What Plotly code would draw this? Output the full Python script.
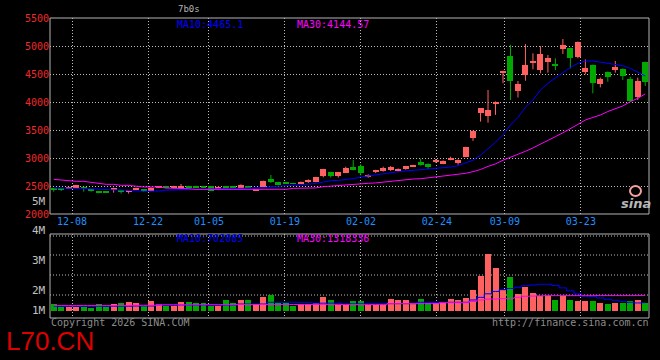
import plotly.graph_objects as go

# ---------------- data ----------------
TICK_LABELS = ["12-08", "12-22", "01-05", "01-19", "02-02", "02-24", "03-09", "03-23"]
PRICE_TICKS = [2000, 2500, 3000, 3500, 4000, 4500, 5000, 5500]

OPEN = [2458, 2452, 2463, 2464, 2482, 2435, 2411, 2391, 2429, 2417,
        2405, 2429, 2440, 2411, 2470, 2500, 2464, 2482, 2500, 2500,
        2500, 2494, 2464, 2494, 2494, 2470, 2500, 2425, 2488, 2625,
        2571, 2571, 2553, 2542, 2566, 2571, 2680, 2750, 2680, 2738,
        2839, 2857, 2678, 2744, 2774, 2786, 2774, 2810, 2845, 2935,
        2899, 2935, 2893, 2964, 2917, 3018, 3363, 3800, 3750, 3980,
        4515, 4820, 4195, 4482, 4690, 4571, 4720, 4685, 4940, 4965,
        4800, 4536, 4660, 4321, 4536, 4571, 4589, 4410, 4095, 4714]
HIGH = [2462, 2455, 2468, 2520, 2485, 2438, 2413, 2393, 2470, 2420,
        2425, 2470, 2445, 2475, 2497, 2503, 2503, 2536, 2503, 2503,
        2503, 2497, 2500, 2497, 2497, 2530, 2503, 2435, 2595, 2696,
        2575, 2574, 2556, 2578, 2619, 2665, 2806, 2755, 2752, 2845,
        2964, 2887, 2708, 2790, 2845, 2857, 2815, 2860, 2878, 2988,
        2905, 2982, 2958, 3024, 2975, 3200, 3490, 3890, 4215, 4010,
        4560, 5020, 4375, 5035, 4870, 5000, 4840, 4780, 5125, 4970,
        5080, 4762, 4670, 4435, 4545, 4732, 4600, 4450, 4435, 4720]
LOW = [2399, 2411, 2458, 2460, 2399, 2399, 2369, 2380, 2381, 2363,
       2363, 2423, 2395, 2405, 2466, 2460, 2460, 2464, 2460, 2466,
       2466, 2411, 2460, 2458, 2466, 2466, 2466, 2420, 2480, 2554,
       2515, 2538, 2532, 2538, 2554, 2566, 2655, 2650, 2650, 2735,
       2780, 2690, 2649, 2730, 2756, 2768, 2756, 2792, 2842, 2863,
       2804, 2917, 2890, 2960, 2881, 3015, 3305, 3650, 3630, 3770,
       4335, 4035, 4080, 4380, 4585, 4512, 4525, 4570, 4857, 4600,
       4780, 4494, 4155, 4262, 4363, 4524, 4393, 4005, 4036, 4286]
CLOSE = [2440, 2429, 2466, 2518, 2446, 2411, 2387, 2385, 2458, 2399,
         2423, 2458, 2420, 2470, 2494, 2464, 2500, 2494, 2464, 2470,
         2470, 2417, 2488, 2464, 2470, 2518, 2470, 2432, 2589, 2566,
         2518, 2542, 2536, 2566, 2607, 2661, 2804, 2680, 2750, 2827,
         2786, 2726, 2684, 2786, 2827, 2839, 2804, 2857, 2875, 2875,
         2833, 2941, 2952, 3006, 2964, 3196, 3482, 3887, 3857, 4005,
         4555, 4380, 4320, 4660, 4732, 4857, 4786, 4650, 5018, 4786,
         5070, 4607, 4345, 4405, 4452, 4625, 4470, 4012, 4381, 4363]
MA10 = [2465, 2465, 2463, 2460, 2455, 2450, 2440, 2435, 2430, 2428,
        2426, 2415, 2405, 2405, 2410, 2425, 2429, 2440, 2447, 2447,
        2447, 2455, 2458, 2458, 2458, 2458, 2458, 2458, 2470, 2488,
        2490, 2505, 2512, 2520, 2536, 2545, 2571, 2595, 2600, 2613,
        2631, 2660, 2679, 2708, 2726, 2744, 2755, 2768, 2780, 2785,
        2795, 2805, 2815, 2839, 2863, 2905, 2960, 3050, 3160, 3280,
        3420, 3589, 3726, 3905, 4036, 4214, 4333, 4434, 4524, 4619,
        4690, 4732, 4732, 4708, 4690, 4672, 4649, 4601, 4530, 4465.1]
MA30 = [2619, 2605, 2595, 2583, 2583, 2565, 2548, 2530, 2530, 2512,
        2512, 2494, 2482, 2482, 2482, 2464, 2464, 2452, 2452, 2440,
        2440, 2440, 2440, 2440, 2440, 2440, 2440, 2441, 2441, 2441,
        2441, 2441, 2458, 2458, 2458, 2465, 2488, 2500, 2500, 2518,
        2536, 2536, 2548, 2555, 2571, 2589, 2595, 2619, 2625, 2630,
        2645, 2661, 2685, 2690, 2708, 2726, 2756, 2795, 2850, 2895,
        2960, 3010, 3070, 3120, 3180, 3244, 3304, 3381, 3450, 3518,
        3600, 3679, 3726, 3768, 3830, 3875, 3929, 4006, 4065, 4144.57]
VOLUME = [566000, 338000, 338000, 338000, 338000, 281000, 566000, 338000, 566000, 650000,
          735000, 650000, 422000, 816000, 566000, 422000, 422000, 735000, 735000, 650000,
          650000, 422000, 422000, 904000, 650000, 904000, 904000, 566000, 1157000, 1326000,
          650000, 650000, 422000, 566000, 566000, 650000, 1157000, 904000, 480000, 507000,
          819000, 819000, 481000, 481000, 481000, 988000, 903000, 903000, 650000, 988000,
          650000, 650000, 650000, 988000, 903000, 1072000, 1747000, 2955000, 4786000, 3605000,
          1747000, 2845000, 1410000, 2001000, 1494000, 1241000, 1241000, 903000, 1241000, 903000,
          819000, 819000, 819000, 650000, 566000, 650000, 650000, 819000, 903000, 650000]
VMA10 = [400000, 400000, 400000, 400000, 400000, 400000, 400000, 400000, 400000, 400000,
         400000, 420000, 420000, 420000, 506000, 506000, 506000, 506000, 506000, 506000,
         506000, 506000, 506000, 506000, 506000, 591000, 591000, 591000, 591000, 734000,
         734000, 734000, 734000, 734000, 734000, 660000, 660000, 660000, 660000, 600000,
         600000, 600000, 620000, 620000, 620000, 620000, 620000, 620000, 620000, 735000,
         735000, 735000, 735000, 735000, 735000, 735000, 932000, 1150000, 1450000, 1650000,
         1800000, 1900000, 2000000, 2140000, 2200000, 2255000, 2255000, 2150000, 1950000, 1700000,
         1450000, 1250000, 1213000, 1100000, 988000, 900000, 800000, 735000, 680000, 702085]
VMA30 = [456000, 456000, 456000, 456000, 456000, 456000, 456000, 456000, 456000, 456000,
         456000, 480000, 480000, 480000, 480000, 520000, 520000, 520000, 520000, 530000,
         530000, 530000, 530000, 540000, 540000, 540000, 540000, 540000, 545000, 545000,
         545000, 545000, 550000, 550000, 550000, 550000, 555000, 555000, 555000, 540000,
         540000, 540000, 540000, 540000, 540000, 620000, 620000, 620000, 620000, 620000,
         620000, 620000, 700000, 700000, 700000, 700000, 800000, 930000, 1000000, 1016000,
         1040000, 1072000, 1157000, 1241000, 1260000, 1280000, 1297000, 1297000, 1297000, 1297000,
         1297000, 1297000, 1297000, 1300000, 1300000, 1300000, 1300000, 1300000, 1300000, 1318336]

# ---------------- styling / layout constants ----------------
W, H = 660, 360
L, R, T, B = 50, 11, 18, 42
PW, PH = W - L - R, H - T - B
TICK_POS = [2.44, 12.59, 20.73, 30.87, 41.03, 51.17, 60.25, 70.40]
RED = "#FF6060"
GREEN = "#00A800"
GRID = "#BEBEBE"
FRAME = "#B4B4B4"
MONO = "DejaVu Sans Mono"
DOT = "1px,2px"


def px(x):
    return (x - L) / PW


def py(y):
    return (H - B - y) / PH


n = len(OPEN)
xs = list(range(n))
up = [c >= o for o, c in zip(OPEN, CLOSE)]
colors = [RED if u else GREEN for u in up]

fig = go.Figure()

# wicks
for flag, col in [(True, RED), (False, GREEN)]:
    wx, wy = [], []
    for i in xs:
        if up[i] == flag:
            wx += [i, i, None]
            wy += [LOW[i], HIGH[i], None]
    fig.add_trace(go.Scatter(x=wx, y=wy, mode="lines", line=dict(color=col, width=1),
                             xaxis="x", yaxis="y", hoverinfo="skip"))

# bodies
base = [min(o, c) for o, c in zip(OPEN, CLOSE)]
height = [max(abs(c - o), 14) for o, c in zip(OPEN, CLOSE)]
fig.add_trace(go.Bar(x=xs, y=height, base=base, width=0.8,
                     marker=dict(color=colors, line=dict(width=0)),
                     xaxis="x", yaxis="y", hoverinfo="skip"))

# price moving averages
fig.add_trace(go.Scatter(x=xs, y=MA10, mode="lines", line=dict(color="#0000FF", width=1),
                         xaxis="x", yaxis="y", hoverinfo="skip"))
fig.add_trace(go.Scatter(x=xs, y=MA30, mode="lines", line=dict(color="#FF00FF", width=1),
                         xaxis="x", yaxis="y", hoverinfo="skip"))

# volume
fig.add_trace(go.Bar(x=xs, y=VOLUME, width=0.8,
                     marker=dict(color=colors, line=dict(width=0)),
                     xaxis="x2", yaxis="y2", hoverinfo="skip"))
fig.add_trace(go.Scatter(x=xs, y=VMA10, mode="lines", line=dict(color="#0000FF", width=1, shape="hvh"),
                         xaxis="x2", yaxis="y2", hoverinfo="skip"))
fig.add_trace(go.Scatter(x=xs, y=VMA30, mode="lines", line=dict(color="#FF00FF", width=1, shape="hvh"),
                         xaxis="x2", yaxis="y2", hoverinfo="skip"))

main_bottom = py(214)
vol_top = py(234)

fig.update_layout(
    width=W, height=H,
    margin=dict(l=L, r=R, t=T, b=B, pad=0),
    paper_bgcolor="black", plot_bgcolor="black",
    showlegend=False, barmode="overlay", bargap=0,
    xaxis=dict(domain=[0, 1], anchor="y", range=[-0.5, n - 0.5],
               tickmode="array", tickvals=TICK_POS, ticktext=TICK_LABELS,
               tickfont=dict(family=MONO, size=10, color="#1E90FF"),
               showgrid=True, gridcolor=GRID, griddash=DOT, gridwidth=1,
               zeroline=False, showline=False, ticks=""),
    yaxis=dict(domain=[main_bottom, 1], anchor="x", range=[2000, 5500],
               tickmode="array", tickvals=PRICE_TICKS,
               tickfont=dict(family=MONO, size=10, color="#F02828"),
               showgrid=True, gridcolor=GRID, griddash=DOT, gridwidth=1,
               zeroline=False, showline=False, ticks=""),
    xaxis2=dict(domain=[0, 1], anchor="y2", range=[-0.5, n - 0.5],
                tickmode="array", tickvals=TICK_POS, showticklabels=False,
                showgrid=True, gridcolor=GRID, griddash=DOT, gridwidth=1,
                zeroline=False, showline=False, ticks=""),
    yaxis2=dict(domain=[0, vol_top], anchor="x2", range=[-591000, 6500000],
                showticklabels=False, showgrid=False, zeroline=False, showline=False, ticks=""),
)

shapes = []
# frames
for xr, yr in [("x domain", "y domain"), ("x2 domain", "y2 domain")]:
    shapes.append(dict(type="rect", xref=xr, yref=yr, x0=0, x1=1, y0=0, y1=1,
                       line=dict(color=FRAME, width=1), layer="above"))
# volume horizontal dotted grid
for yy in [255, 275, 295, 236]:
    f = (318 - yy) / (318 - 234)
    shapes.append(dict(type="line", xref="x2 domain", yref="y2 domain", x0=0, x1=1, y0=f, y1=f,
                       line=dict(color=GRID, width=1, dash=DOT), layer="below"))
# sina logo eye
shapes.append(dict(type="circle", xref="paper", yref="paper",
                   x0=px(630), x1=px(641), y0=py(196), y1=py(186),
                   line=dict(color="#F4A0A0", width=2), layer="above"))
fig.update_layout(shapes=shapes)

ann = []


def text(t, x, y, color, size=10, xanchor="left", family=MONO):
    ann.append(dict(text=t, x=px(x), y=py(y), xref="paper", yref="paper",
                    xanchor=xanchor, yanchor="middle", showarrow=False,
                    font=dict(family=family, size=size, color=color)))


text("MA10:4465.1", 175, 24, "#0000FF")
text("MA30:4144.57", 295, 24, "#FF00FF")
text("MA10:702085", 175, 238.5, "#0000FF")
text("MA30:1318336", 295, 238.5, "#FF00FF")
text("7b0s", 189, 9, "#B4B4B4", size=9, xanchor="center")
for lab, yy in [("5M", 201), ("4M", 230.5), ("3M", 260.7), ("2M", 290.7), ("1M", 310)]:
    text(lab, 48, yy, "#C0C0C0", size=11, xanchor="right")
text("Copyright 2026 SINA.COM", 49, 322.5, "#8C8C8C")
text("http://finance.sina.com.cn", 651, 322.5, "#8C8C8C", xanchor="right")
text("L70.CN", 4, 341, "#DD0000", size=26, family="Liberation Sans")
text("<b><i>sina</i></b>", 636, 203, "#B8B8B8", size=13, xanchor="center", family="DejaVu Sans")
fig.update_layout(annotations=ann)

fig.write_html("out.html",
               config={"displayModeBar": False},
               post_script="document.body.style.margin='0';document.body.style.background='black';")
